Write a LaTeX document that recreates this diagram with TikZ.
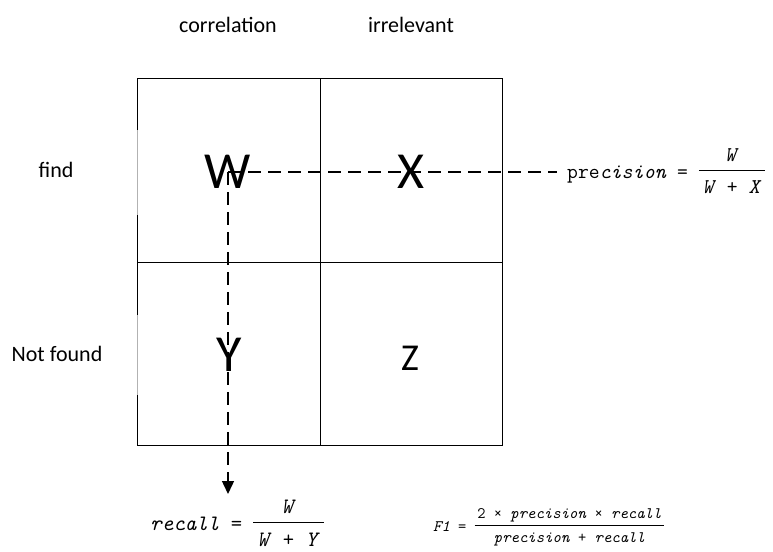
\documentclass[tikz,border=0pt]{standalone}
\usepackage{fontspec}
\setmainfont{Carlito}
\usetikzlibrary{arrows.meta}
\newcommand{\myfrac}[2]{$\vcenter{\hbox{\begin{tabular}{@{\,}c@{\,}}#1\\[1pt]\hline\rule{0pt}{1.1em}#2\end{tabular}}}$}
\begin{document}
\begin{tikzpicture}[x=1pt,y=-1pt,
  lbl/.style={font=\fontsize{22}{26}\selectfont, inner sep=0pt},
  big/.style={font=\fontsize{52}{56}\selectfont, inner sep=0pt},
  frm/.style={inner sep=0pt},
  gridline/.style={line width=1pt},
  dashline/.style={line width=1.4pt, dash pattern=on 13pt off 7pt}]
\useasboundingbox (0,0) rectangle (773,551);
% grid
\draw[gridline] (137,78) rectangle (502,445);
\draw[gridline] (320,78) -- (320,445);
\draw[gridline] (137,262) -- (502,262);
\draw[gray!60, line width=1pt] (137,130) -- (137,215);
\draw[gray!60, line width=1pt] (137,315) -- (137,395);
% headers
\node[lbl] (hc) at (228,25) {correlation};
\node[lbl] (hi) at (411,25) {irrelevant};
\node[lbl] (rf) at (56,170) {find};
\node[lbl] (rn) at (57,354) {Not found};
% cells
\node[big] (W) at (228,172) {W};
\node[big] (X) at (411,172) {X};
\node[big] (Y) at (229,355) {Y};
\node[big, font=\fontsize{38}{42}\selectfont] (Z) at (410,358) {Z};
% formulas
\node[frm, anchor=west, font=\ttfamily\fontsize{21}{24}\selectfont] (P) at (567,173) {pre\textit{cision} = \myfrac{\textit{W}}{\textit{W} + \textit{X}}};
\node[frm, anchor=west, font=\ttfamily\fontsize{22}{24}\selectfont] (R) at (150,525) {\textit{recall} = \myfrac{\textit{W}}{\textit{W} + \textit{Y}}};
\node[frm, anchor=west, font=\ttfamily\fontsize{16}{18}\selectfont] (F) at (433,527) {\textit{F1} = \myfrac{2 × \textit{precision} × \textit{recall}}{\textit{precision} + \textit{recall}}};
% connectors
\coordinate (hend) at (557,172);
\coordinate (vend) at (228,494);
\draw[dashline] (W.center) -- (hend);
\draw[dashline, -{Triangle[length=13pt,width=12pt]}] (W.center) -- (vend);
\end{tikzpicture}
\end{document}
